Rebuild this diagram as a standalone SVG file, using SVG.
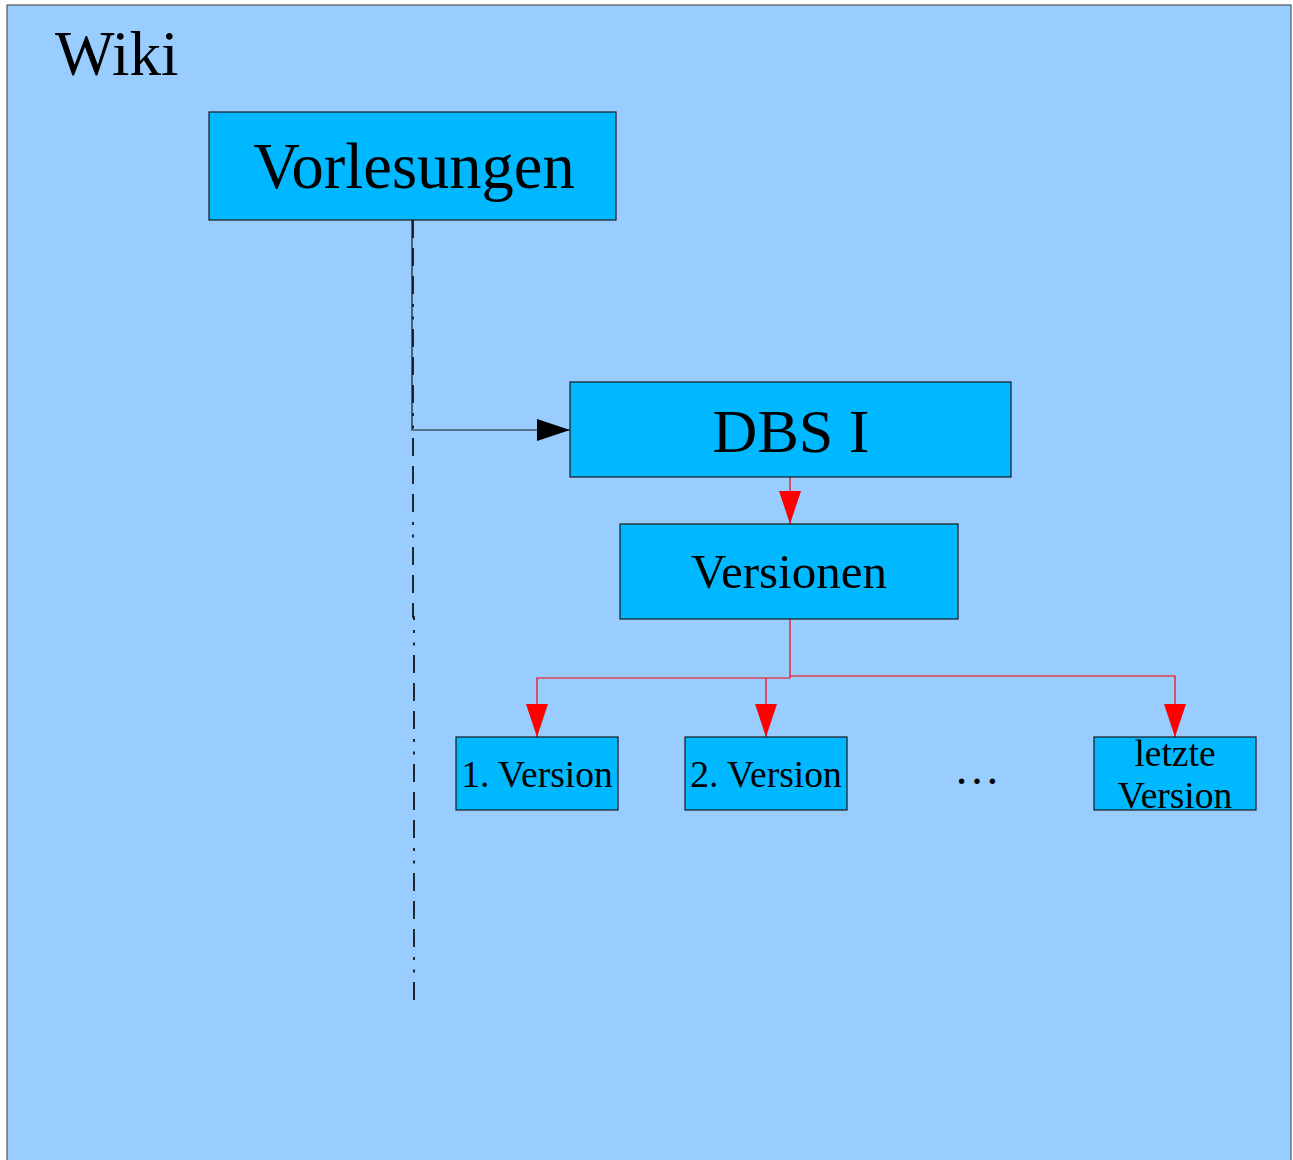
<svg xmlns="http://www.w3.org/2000/svg" width="1293" height="1160" viewBox="0 0 1293 1160">
<style>
.node{fill:#00b8ff;stroke:#1a1a1a;stroke-width:1.2}
.t{font-family:"Liberation Serif","Times New Roman",serif;fill:#000;text-anchor:middle}
.red{fill:none;stroke:#ff0000;stroke-width:1.2}
.blk{fill:none;stroke:#1a1a1a;stroke-width:1.2}
</style>
<defs>
<marker id="ar" markerUnits="userSpaceOnUse" markerWidth="34" markerHeight="24" refX="33" refY="11" orient="auto" viewBox="0 0 34 24">
<path d="M0,0 L33,11 L0,22 Z" fill="#ff0000"/>
</marker>
<marker id="ab" markerUnits="userSpaceOnUse" markerWidth="34" markerHeight="24" refX="33" refY="11" orient="auto" viewBox="0 0 34 24">
<path d="M0,0 L33,11 L0,22 Z" fill="#000"/>
</marker>
</defs>
<rect width="1293" height="1160" fill="#ffffff"/>
<g id="wiki">
<rect x="7" y="5" width="1284" height="1170" fill="#99ccff" stroke="#555" stroke-width="1.2"/>
<text class="t" x="55" y="75" font-size="63" style="text-anchor:start">Wiki</text>
</g>
<g id="connectors">
<path d="M413,220 L413,617 L414,617 L414,1002" fill="none" stroke="#000" stroke-width="1.6" stroke-dasharray="18 10 18 10 18 10 3 9.5 3 9.5"/>
<path class="blk" d="M412,220 L412,430 L570,430" marker-end="url(#ab)"/>
<path class="red" d="M790,477 L790,524" marker-end="url(#ar)"/>
<path class="red" d="M790,619 L790,678 L537,678 L537,737" marker-end="url(#ar)"/>
<path class="red" d="M766,678 L766,737" marker-end="url(#ar)"/>
<path class="red" d="M790,676 L1175,676 L1175,737" marker-end="url(#ar)"/>
</g>
<g id="vorlesungen">
<rect class="node" x="209" y="112" width="407" height="108"/>
<text class="t" x="414" y="188" font-size="64.5">Vorlesungen</text>
</g>
<g id="dbs1">
<rect class="node" x="570" y="382" width="441" height="95"/>
<text class="t" x="791" y="452" font-size="62">DBS I</text>
</g>
<g id="versionen">
<rect class="node" x="620" y="524" width="338" height="95"/>
<text class="t" x="789" y="588" font-size="49">Versionen</text>
</g>
<g id="v1">
<rect class="node" x="456" y="737" width="162" height="73"/>
<text class="t" x="537" y="787" font-size="37.5">1. Version</text>
</g>
<g id="v2">
<rect class="node" x="685" y="737" width="162" height="73"/>
<text class="t" x="766" y="787" font-size="37.5">2. Version</text>
</g>
<g id="dots">
<text class="t" x="977" y="784" font-size="46">…</text>
</g>
<g id="vlast">
<rect class="node" x="1094" y="737" width="162" height="73"/>
<text class="t" x="1175" y="766" font-size="37.5">letzte</text>
<text class="t" x="1175" y="808" font-size="37.5">Version</text>
</g>
</svg>
